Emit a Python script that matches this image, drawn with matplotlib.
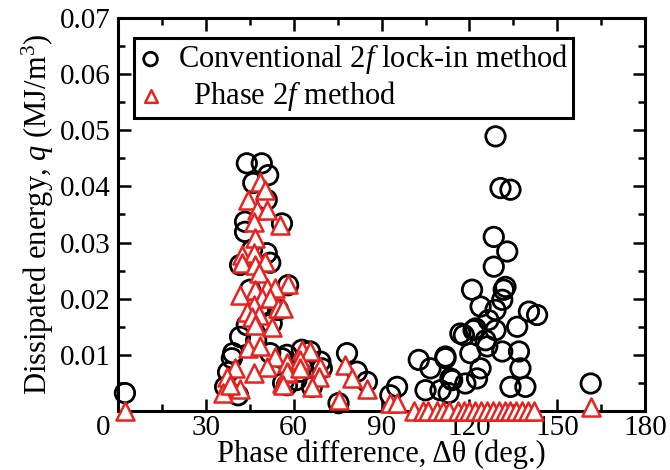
import matplotlib
matplotlib.use("Agg")
import matplotlib.pyplot as plt
from matplotlib.ticker import MultipleLocator, FixedLocator
import matplotlib.transforms as mtransforms

# conventional 2f lock-in method (black circles)
conv_deg = [2.4, 44.0, 49.1, 51.3, 46.2, 50.8, 43.4, 56.0, 43.4, 50.8, 41.7, 52.0, 45.8,
            45.1, 44.0, 41.7, 52.5, 54.7, 58.1, 52.0, 56.0, 56.4, 36.6, 38.9, 39.3, 47.2,
            49.2, 37.6, 41.0,
            62.8, 65.6, 57.7, 69.1, 69.6, 66.2, 78.2, 81.6, 85.0, 75.3, 62.2, 57.7, 60.9,
            93.0, 95.3, 102.7, 106.7, 111.8, 105.0, 112.9, 114.1, 118.6, 122.6, 120.3,
            116.9, 122.1, 120.9, 123.8, 128.9, 131.7, 128.9, 130.6, 134.0, 128.3, 132.9,
            128.3, 132.3, 131.2, 140.3, 143.1, 136.3, 128.9, 118.1, 121.4, 126.1, 131.2,
            136.9, 137.4, 123.8, 111.8, 113.5, 110.1, 134.0, 139.1, 125.5, 126.5, 161.4]
conv_q = [0.0032, 0.0441, 0.0441, 0.0420, 0.0406, 0.0376, 0.0337, 0.0334, 0.0319, 0.0281,
          0.0260, 0.0264, 0.0287, 0.0216, 0.0153, 0.0132, 0.0156, 0.0180, 0.0224, 0.0103,
          0.0094, 0.0050, 0.0043, 0.0094, 0.0103, 0.0126, 0.0189, 0.0069, 0.0028,
          0.0109, 0.0106, 0.0100, 0.0088, 0.0076, 0.0043, 0.0103, 0.0070, 0.0052, 0.0014,
          0.0070, 0.0046, 0.0055,
          0.0028, 0.0043, 0.0091, 0.0076, 0.0094, 0.0037, 0.0032, 0.0055, 0.0049, 0.0058,
          0.0103, 0.0138, 0.0147, 0.0216, 0.0186, 0.0180, 0.0216, 0.0489, 0.0397, 0.0394,
          0.0310, 0.0284, 0.0257, 0.0221, 0.0198, 0.0177, 0.0171, 0.0150, 0.0144, 0.0135,
          0.0144, 0.0115, 0.0106, 0.0106, 0.0076, 0.0076, 0.0097, 0.0058, 0.0037, 0.0043,
          0.0043, 0.0126, 0.0162, 0.0049]

# phase 2f method (red triangles)
phase_deg = [2.4, 48.5, 50.3, 44.5, 47.4, 50.8, 46.3, 55.4, 46.8, 42.3, 46.3, 50.3, 42.3,
             46.8, 48.0, 58.2, 46.8, 50.8, 53.7, 41.7, 49.1, 52.0, 46.3, 54.8, 44.0, 48.0,
             45.7, 46.8, 52.5, 44.5, 48.5, 53.7, 57.7, 50.8, 40.0, 46.3, 37.2, 58.2, 56.0,
             41.7, 36.0, 38.3,
             62.8, 65.6, 62.2, 56.5, 57.7, 62.2, 56.5, 69.1, 68.5, 66.2, 77.6, 79.9, 85.0,
             75.3, 93.0, 95.3,
             101, 104, 106, 109, 111, 113, 116, 118, 120, 122, 124, 126, 128, 130, 132,
             134, 136, 138, 140, 142, 161.4]
phase_q = [0.0, 0.0408, 0.0394, 0.0376, 0.0358, 0.0358, 0.0337, 0.0331, 0.0308, 0.0278,
           0.0281, 0.0266, 0.0263, 0.0260, 0.0245, 0.0227, 0.0216, 0.0219, 0.0219, 0.0207,
           0.0201, 0.0201, 0.0189, 0.0183, 0.0177, 0.0171, 0.0168, 0.0153, 0.0150, 0.0112,
           0.0115, 0.0097, 0.0085, 0.0079, 0.0076, 0.0067, 0.0061, 0.0067, 0.0049, 0.0040,
           0.0032, 0.0046,
           0.0109, 0.0106, 0.0091, 0.0183, 0.0070, 0.0076, 0.0046, 0.0079, 0.0061, 0.0043,
           0.0082, 0.0058, 0.0040, 0.0020, 0.0014, 0.0014,
           0.0, 0.0, 0.0, 0.0, 0.0, 0.0, 0.0, 0.0, 0.0, 0.0,
           0.0, 0.0, 0.0, 0.0, 0.0, 0.0, 0.0, 0.0, 0.0, 0.0,
           0.0008]

x_ticks = [0, 30, 60, 90, 120, 150, 180]
y_ticks = [0.01, 0.02, 0.03, 0.04, 0.05, 0.06, 0.07]

plt.rcParams['font.family'] = ['Liberation Serif', 'DejaVu Serif']
plt.rcParams['mathtext.fontset'] = 'custom'
plt.rcParams['mathtext.rm'] = 'Liberation Serif'
plt.rcParams['mathtext.it'] = 'Liberation Serif:italic'

fig = plt.figure(figsize=(6.7, 4.7), dpi=100)
ax = fig.add_axes([0.176, 0.1255, 0.787, 0.8365])

ax.scatter(conv_deg, conv_q, marker='o', s=14 ** 2, facecolors='none',
           edgecolors='black', linewidths=2.0, zorder=3, clip_on=False,
           label='Conventional 2$\\mathit{f}$ lock-in method')
ax.scatter(phase_deg, phase_q, marker='^', s=13 ** 2, facecolors='white',
           edgecolors='#e8231f', linewidths=1.8, zorder=4, clip_on=False,
           label='  Phase 2$\\mathit{f}$ method')

ax.set_xlim(0, 180)
ax.set_ylim(0, 0.07)
ax.xaxis.set_major_locator(FixedLocator(x_ticks))
ax.xaxis.set_minor_locator(MultipleLocator(15))
ax.yaxis.set_major_locator(FixedLocator(y_ticks))
ax.yaxis.set_minor_locator(MultipleLocator(0.005))
ax.set_yticklabels([f"{v:.2f}" for v in y_ticks])

ax.tick_params(which='both', direction='in', top=True, right=True, width=1.8,
               labelsize=21, pad=5)
ax.tick_params(axis='x', pad=3)
ax.tick_params(which='major', length=9)
ax.tick_params(which='minor', length=5)
for sp in ax.spines.values():
    sp.set_linewidth(2.2)

# the "0" label sits left of the axis corner in the original
lbl0 = ax.get_xticklabels()[0]
lbl0.set_transform(lbl0.get_transform() + mtransforms.ScaledTranslation(-0.15, 0, fig.dpi_scale_trans))

ax.set_xlabel('Phase difference, \u0394\u03b8 (deg.)', fontsize=22, labelpad=-1)
ax.set_ylabel('Dissipated energy, $q$ (MJ/m$^3$)', fontsize=22, labelpad=3)

leg = ax.legend(loc='upper left', bbox_to_anchor=(0.03, 0.95), fontsize=22,
                frameon=True, fancybox=False, edgecolor='black', framealpha=1,
                markerscale=0.7, handlelength=0.8, handletextpad=0.5,
                borderpad=0.15, labelspacing=0.1, borderaxespad=0)
leg.get_frame().set_linewidth(2.2)

fig.savefig('out.png', dpi=100)
